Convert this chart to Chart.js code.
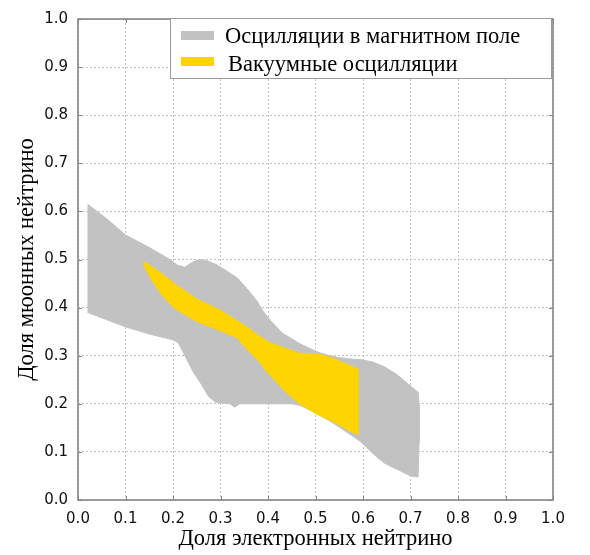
<!DOCTYPE html>
<html>
<head>
<meta charset="utf-8">
<script src="https://cdn.jsdelivr.net/npm/chart.js@4"></script>
<style>
  html, body { margin:0; padding:0; background:#fff; }
  #wrap { width:590px; height:555px; }
</style>
</head>
<body>
<div id="wrap"><canvas id="chart" width="590" height="555"></canvas></div>
<script>
// ---- Data ----
const X_TITLE = 'Доля электронных нейтрино';
const Y_TITLE = 'Доля мюонных нейтрино';
const xTicks = [0,0.1,0.2,0.3,0.4,0.5,0.6,0.7,0.8,0.9,1.0];
const yTicks = [0,0.1,0.2,0.3,0.4,0.5,0.6,0.7,0.8,0.9,1.0];

const magneticLabel = 'Осцилляции в магнитном поле';
// outline of the gray region, clockwise from the top-left corner
const magneticX = [0.02,0.06,0.10,0.15,0.19,0.21,0.225,0.24,0.255,0.27,0.29,0.31,0.335,0.355,0.376,0.39,0.404,0.43,0.45,0.467,0.49,0.509,0.53,0.55,0.575,0.594,0.62,0.643,0.67,0.699,0.716,
                   0.718,0.718,0.716,0.70,0.678,0.66,0.643,0.625,0.608,0.594,0.575,0.555,0.537,0.516,0.49,0.467,0.45,0.40,0.36,0.34,0.33,0.32,0.29,0.275,0.257,0.245,0.236,0.222,0.211,0.20,0.15,0.10,0.06,0.02];
const magneticY = [0.615,0.585,0.551,0.525,0.502,0.488,0.484,0.494,0.500,0.498,0.490,0.478,0.462,0.44,0.415,0.392,0.374,0.347,0.335,0.325,0.314,0.306,0.300,0.296,0.293,0.292,0.287,0.278,0.262,0.238,0.224,
                   0.20,0.12,0.048,0.050,0.061,0.069,0.078,0.093,0.109,0.122,0.135,0.148,0.160,0.172,0.186,0.197,0.200,0.200,0.200,0.200,0.193,0.200,0.203,0.215,0.245,0.262,0.279,0.306,0.327,0.333,0.345,0.360,0.375,0.390];

const vacuumLabel = 'Вакуумные осцилляции';
// outline of the yellow region, clockwise from the top-left tip
const vacuumX = [0.137,0.145,0.16,0.18,0.204,0.25,0.299,0.33,0.355,0.38,0.404,0.435,0.467,0.509,0.53,0.56,0.59,
                 0.59,0.59,0.573,0.537,0.50,0.467,0.44,0.418,0.395,0.383,0.366,0.345,0.336,0.30,0.25,0.204,0.18,0.165,0.152,0.142,0.137];
const vacuumY = [0.494,0.492,0.482,0.468,0.449,0.418,0.395,0.376,0.360,0.342,0.327,0.316,0.305,0.303,0.297,0.285,0.272,
                 0.20,0.136,0.143,0.163,0.180,0.200,0.222,0.245,0.270,0.286,0.303,0.325,0.337,0.352,0.371,0.398,0.422,0.443,0.463,0.481,0.494];

const toPoints = (xs, ys) => xs.map((x, i) => ({ x, y: ys[i] }));

const SERIF = '"Liberation Serif", "Times New Roman", serif';
const FRAME = '#858585';

// ---- full frame with small inward ticks (matplotlib classic look) ----
const frameAndTicks = {
  id: 'frameAndTicks',
  afterDatasetsDraw(chart){
    const { ctx, chartArea: a, scales } = chart;
    ctx.save();
    ctx.strokeStyle = FRAME;
    ctx.lineWidth = 1;
    ctx.beginPath();
    xTicks.forEach(v => {
      const px = Math.round(scales.x.getPixelForValue(v)) + 0.5;
      ctx.moveTo(px, a.bottom); ctx.lineTo(px, a.bottom - 4);
      ctx.moveTo(px, a.top); ctx.lineTo(px, a.top + 4);
    });
    yTicks.forEach(v => {
      const py = Math.round(scales.y.getPixelForValue(v)) + 0.5;
      ctx.moveTo(a.left, py); ctx.lineTo(a.left + 4, py);
      ctx.moveTo(a.right, py); ctx.lineTo(a.right - 4, py);
    });
    ctx.stroke();
    ctx.lineWidth = 1.6;
    ctx.strokeRect(a.left, a.top, a.right - a.left, a.bottom - a.top);
    ctx.restore();
  }
};

// ---- Legend drawn inside the plot, like the original ----
const insideLegend = {
  id: 'insideLegend',
  afterDraw(chart){
    const ctx = chart.ctx;
    const items = [chart.data.datasets[0], chart.data.datasets[1]];
    ctx.save();
    ctx.fillStyle = '#fff';
    ctx.fillRect(170.5, 18.5, 381, 60);
    ctx.strokeStyle = '#9a9a9a';
    ctx.lineWidth = 1;
    ctx.strokeRect(170.5, 18.5, 381, 60);
    ctx.font = '22.5px ' + SERIF;
    ctx.textBaseline = 'alphabetic';
    ctx.textAlign = 'left';
    const rows = [{ sy: 31, ty: 43, tx: 225 }, { sy: 57, ty: 71, tx: 228 }];
    items.forEach((ds, i) => {
      const r = rows[i];
      ctx.fillStyle = ds.backgroundColor;
      ctx.fillRect(181, r.sy, 33, 9);
      ctx.fillStyle = '#000';
      ctx.fillText(ds.label, r.tx, r.ty);
    });
    ctx.restore();
  }
};

const tickFont = { family: '"DejaVu Sans", sans-serif', size: 15 };
const titleFont = { family: SERIF, size: 22.5 };
const gridOpts = { color: '#c2c2c2', lineWidth: 1, drawTicks: false };
const borderOpts = { display: false, dash: [2, 2] };

new Chart(document.getElementById('chart'), {
  type: 'scatter',
  data: {
    datasets: [
      { label: magneticLabel, data: toPoints(magneticX, magneticY), showLine: true, fill: 'shape',
        backgroundColor: '#c2c2c2', borderColor: '#c2c2c2', borderWidth: 1, pointRadius: 0, order: 2 },
      { label: vacuumLabel, data: toPoints(vacuumX, vacuumY), showLine: true, fill: 'shape',
        backgroundColor: '#ffd400', borderColor: '#ffd400', borderWidth: 1, pointRadius: 0, order: 1 }
    ]
  },
  options: {
    responsive: false,
    animation: false,
    layout: { padding: { top: 10, right: 37, left: 0, bottom: 0 } },
    plugins: { legend: { display: false }, tooltip: { enabled: false } },
    scales: {
      x: {
        type: 'linear', min: 0, max: 1,
        afterBuildTicks: s => { s.ticks = xTicks.map(v => ({ value: v })); },
        afterFit: s => { s.height = 55; },
        ticks: { font: tickFont, color: '#111', padding: 10, maxRotation: 0, autoSkip: false, callback: v => v.toFixed(1) },
        grid: gridOpts,
        border: borderOpts,
        title: { display: true, text: X_TITLE, font: titleFont, color: '#000', padding: { top: 0, bottom: 2 } }
      },
      y: {
        type: 'linear', min: 0, max: 1,
        afterBuildTicks: s => { s.ticks = yTicks.map(v => ({ value: v })); },
        afterFit: s => { s.width = 78; },
        ticks: { font: tickFont, color: '#111', padding: 10, autoSkip: false, callback: v => v.toFixed(1) },
        grid: gridOpts,
        border: borderOpts,
        title: { display: true, text: Y_TITLE, font: titleFont, color: '#000', padding: { top: 14, bottom: 0 } }
      }
    }
  },
  plugins: [frameAndTicks, insideLegend]
});
</script>
</body>
</html>
